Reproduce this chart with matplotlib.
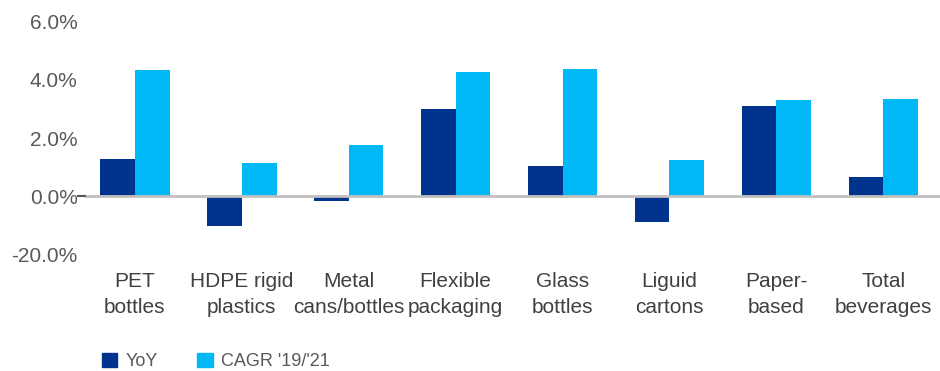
import numpy as np
import matplotlib.pyplot as plt
from matplotlib.patches import Patch

plt.rcParams['font.family'] = ['Liberation Sans', 'DejaVu Sans']

categories = ['PET\nbottles', 'HDPE rigid\nplastics', 'Metal\ncans/bottles',
              'Flexible\npackaging', 'Glass\nbottles', 'Liguid\ncartons',
              'Paper-\nbased', 'Total\nbeverages']
yoy = [1.28, -1.03, -0.17, 3.00, 1.03, -0.90, 3.10, 0.66]
cagr = [4.34, 1.14, 1.76, 4.28, 4.38, 1.24, 3.31, 3.34]
ytick_vals = [-2, 0, 2, 4, 6]
ytick_labels = ['-20.0%', '0.0%', '2.0%', '4.0%', '6.0%']

dark_blue = '#00338D'
light_blue = '#00B8F5'

fig = plt.figure(figsize=(9.4, 3.71), dpi=100)
ax = fig.add_axes([0.090, 0.315, 0.910, 0.626])

x = np.arange(len(categories))
w = 0.325
ax.bar(x - w / 2, yoy, w, color=dark_blue, zorder=2)
ax.bar(x + w / 2, cagr, w, color=light_blue, zorder=2)

ax.axhline(0, color='#c0c0c0', lw=2, zorder=3)
ax.plot([-0.535, -0.47], [0, 0], color='#555555', lw=1.5, clip_on=False, zorder=4)

ax.set_xlim(-0.47, 7.53)
ax.set_ylim(-2, 6)
ax.set_yticks(ytick_vals)
ax.set_yticklabels(ytick_labels, fontsize=15, color='#595959')
ax.set_xticks(x)
ax.set_xticklabels(categories, fontsize=15, color='#404040', linespacing=1.45)
ax.tick_params(axis='both', length=0)
ax.tick_params(axis='y', pad=5)
ax.tick_params(axis='x', pad=13)
for s in ax.spines.values():
    s.set_visible(False)

handles = [Patch(color=dark_blue, label='YoY'),
           Patch(color=light_blue, label="CAGR '19/'21")]
fig.legend(handles=handles, loc='lower left', bbox_to_anchor=(0.091, -0.042),
           ncol=2, frameon=False, fontsize=13, handlelength=0.85, handleheight=0.85,
           handletextpad=0.45, columnspacing=2.2, labelcolor='#595959')

fig.savefig('out.png', dpi=100)
